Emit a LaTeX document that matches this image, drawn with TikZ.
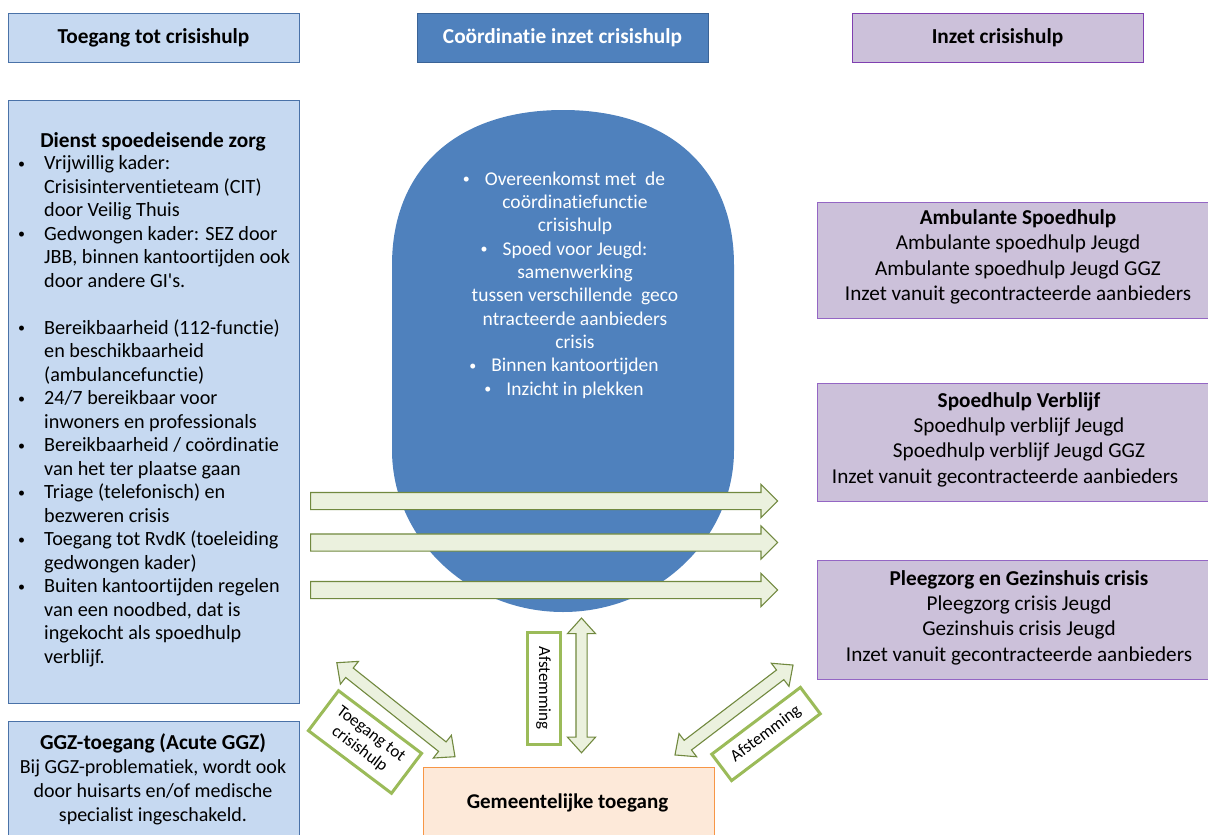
\documentclass[tikz,border=0pt]{standalone}
\usepackage{fontspec}
\setmainfont{Carlito}[Ligatures={NoCommon,NoRequired,NoContextual}]
\usetikzlibrary{shapes.arrows}
\definecolor{lblue}{HTML}{C6D9F1}
\definecolor{lblueb}{HTML}{4A72A8}
\definecolor{mblue}{HTML}{4F81BD}
\definecolor{mblueb}{HTML}{3A6396}
\definecolor{lpurp}{HTML}{CCC1DA}
\definecolor{purpb}{HTML}{7F3FB0}
\definecolor{purpb2}{HTML}{9466C4}
\definecolor{peach}{HTML}{FDE9D9}
\definecolor{orangeb}{HTML}{F79646}
\definecolor{agreen}{HTML}{EBF1DE}
\definecolor{adark}{HTML}{71893F}
\definecolor{lgreen}{HTML}{9BBB59}
\newcommand\mybul{{\fontsize{14}{14}\selectfont\raisebox{0.12em}{•}}}
\begin{document}
\begin{tikzpicture}[x=1pt,y=-1pt,
  hdr/.style={draw, line width=1pt, minimum width=291pt, minimum height=49pt, inner sep=0pt,
    font=\fontsize{21.3}{24}\selectfont\bfseries},
  bigbox/.style={draw=lblueb, fill=lblue, line width=1pt, minimum width=291pt, inner sep=0pt},
  rbox/.style={draw=purpb2, fill=lpurp, line width=1pt, minimum width=413pt, inner sep=0pt},
  bodytxt/.style={inner sep=0pt, font=\fontsize{20.2}{23.5}\selectfont,
    execute at begin node=\strut, execute at end node=\strut},
  rtxt/.style={inner sep=0pt, align=center, font=\fontsize{21.2}{25.4}\selectfont,
    execute at begin node=\strut, execute at end node=\strut},
  barrow/.style={fill=agreen, draw=adark, line width=1.1pt, inner xsep=0pt},
  harr/.style={barrow, single arrow, anchor=tail, inner ysep=8pt, minimum height=467pt, minimum width=32pt,
    single arrow head extend=8pt, single arrow head indent=0pt},
  darr/.style={barrow, double arrow, inner ysep=5.5pt, minimum width=28pt,
    double arrow head extend=8.5pt, double arrow head indent=0pt, double arrow tip angle=84},
  lbl/.style={draw=lgreen, fill=white, line width=3pt, inner sep=0pt, align=center,
    font=\fontsize{17}{19}\selectfont}
]
\useasboundingbox (0,0) rectangle (1208,835);
\clip (0,0) rectangle (1208,835);

% headers
\node[hdr, draw=lblueb, fill=lblue] (h-toegang) at (153.5,37.5) {Toegang tot crisishulp};
\node[hdr, draw=mblueb, fill=mblue, text=white] (h-coord) at (562.5,37.5) {Coördinatie inzet crisishulp};
\node[hdr, draw=purpb, fill=lpurp] (h-inzet) at (997.5,37.5) {Inzet crisishulp};

% left boxes
\node[bigbox, minimum height=603pt] (dsz) at (153.5,401.5) {};
\node[bodytxt, font=\fontsize{21.3}{23.5}\selectfont\bfseries] (dsz-title) at (153,143) {Dienst spoedeisende zorg};
\node[bodytxt, align=left, anchor=west] (dsz-list) at (18,413) {%
\makebox[26pt][l]{\mybul}Vrijwillig kader:\\
\hspace*{26pt}Crisisinterventieteam (CIT)\\
\hspace*{26pt}door Veilig Thuis\\
\makebox[26pt][l]{\mybul}Gedwongen kader: SEZ door\\
\hspace*{26pt}JBB, binnen kantoortijden ook\\
\hspace*{26pt}door andere GI\textquotesingle s.\\[23.5pt]
\makebox[26pt][l]{\mybul}Bereikbaarheid (112-functie)\\
\hspace*{26pt}en beschikbaarheid\\
\hspace*{26pt}(ambulancefunctie)\\
\makebox[26pt][l]{\mybul}24/7 bereikbaar voor\\
\hspace*{26pt}inwoners en professionals\\
\makebox[26pt][l]{\mybul}Bereikbaarheid / coördinatie\\
\hspace*{26pt}van het ter plaatse gaan\\
\makebox[26pt][l]{\mybul}Triage (telefonisch) en\\
\hspace*{26pt}bezweren crisis\\
\makebox[26pt][l]{\mybul}Toegang tot RvdK (toeleiding\\
\hspace*{26pt}gedwongen kader)\\
\makebox[26pt][l]{\mybul}Buiten kantoortijden regelen\\
\hspace*{26pt}van een noodbed, dat is\\
\hspace*{26pt}ingekocht als spoedhulp\\
\hspace*{26pt}verblijf.};

\node[bigbox, minimum height=150pt] (ggz) at (153.5,796) {};
\node[bodytxt, align=center, font=\fontsize{20}{24}\selectfont] (ggz-txt) at (153,781) {%
{\fontsize{21.3}{24}\selectfont\bfseries GGZ-toegang (Acute GGZ)}\\
Bij GGZ-problematiek, wordt ook\\
door huisarts en/of medische\\
specialist ingeschakeld.};

% central oval
\fill[mblue] (392,265) .. controls (392,169) and (457,110) .. (563,110)
  .. controls (669,110) and (734,169) .. (734,265) -- (734,450)
  .. controls (734,539) and (657,612) .. (563,612)
  .. controls (469,612) and (392,539) .. (392,450) -- cycle;
\node[bodytxt, align=center, text=white, font=\fontsize{19.5}{23.33}\selectfont] (oval-txt) at (564,287) {%
\makebox[22pt][l]{\mybul}Overeenkomst met\ \ de\\
\hspace*{22pt}coördinatiefunctie\\
\hspace*{22pt}crisishulp\\
\makebox[22pt][l]{\mybul}Spoed voor Jeugd:\\
\hspace*{22pt}samenwerking\\
\hspace*{22pt}tussen verschillende\ \ geco\\
\hspace*{22pt}ntracteerde aanbieders\\
\hspace*{22pt}crisis\\
\makebox[22pt][l]{\mybul}Binnen kantoortijden\\
\makebox[22pt][l]{\mybul}Inzicht in plekken};

% right boxes
\node[rbox, minimum height=116pt] (amb) at (1023.5,260) {};
\node[rtxt] (amb-txt) at (1018,259) {%
\textbf{Ambulante Spoedhulp}\\
Ambulante spoedhulp Jeugd\\
Ambulante spoedhulp Jeugd GGZ\\
Inzet vanuit gecontracteerde aanbieders};
\node[rbox, minimum height=118pt] (verb) at (1023.5,442) {};
\node[rtxt] (verb-txt) at (1019,441.5) {%
\textbf{Spoedhulp Verblijf}\\
Spoedhulp verblijf Jeugd\\
Spoedhulp verblijf Jeugd GGZ\\
Inzet vanuit gecontracteerde aanbieders\hspace*{28pt}};
\node[rbox, minimum height=119pt] (pleeg) at (1023.5,619.5) {};
\node[rtxt] (pleeg-txt) at (1019,619.5) {%
\textbf{Pleegzorg en Gezinshuis crisis}\\
Pleegzorg crisis Jeugd\\
Gezinshuis crisis Jeugd\\
Inzet vanuit gecontracteerde aanbieders};

% gemeentelijke toegang
\node[draw=orangeb, fill=peach, line width=1pt, minimum width=291pt, minimum height=120pt, inner sep=0pt] (gem) at (568.5,827) {};
\node[bodytxt, font=\fontsize{21}{23.5}\selectfont\bfseries] (gem-txt) at (567.5,804) {Gemeentelijke toegang};

% horizontal block arrows
\node[harr] (arr1) at (310,501) {};
\node[harr] (arr2) at (310,542.5) {};
\node[harr] (arr3) at (310,590) {};

% double arrows
\node[darr, rotate=90, minimum height=134.7pt, inner ysep=5pt, minimum width=27pt, double arrow head extend=8.5pt] (varr) at (581.5,685.4) {};
\node[darr, rotate=-38.5, minimum height=151pt] (larr) at (395.9,709.7) {};
\node[darr, rotate=37.3, minimum height=148.4pt] (rarr) at (734,710) {};

% labels
\node[lbl, rotate=-90, minimum width=112pt, minimum height=33pt] (vlbl) at (543.5,688) {Afstemming};
\node[lbl, rotate=-37, minimum width=104pt, minimum height=50pt] (llbl) at (365,742) {Toegang tot\\crisishulp};
\node[lbl, rotate=37, minimum width=111pt, minimum height=33pt] (rlbl) at (766,734) {Afstemming};
\end{tikzpicture}
\end{document}
